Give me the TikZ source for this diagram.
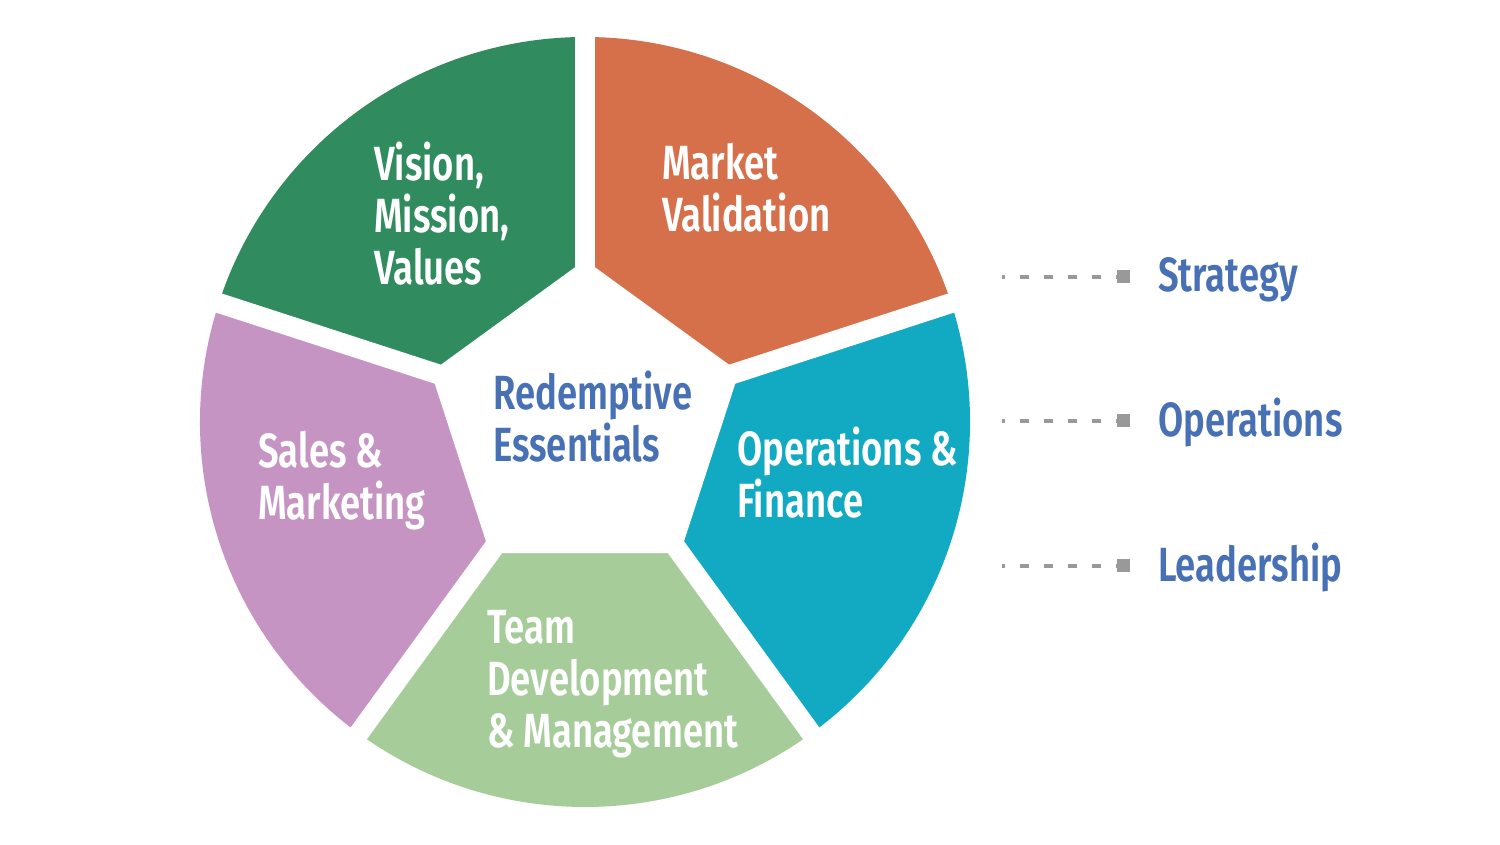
\documentclass[tikz,border=0pt]{standalone}
\usepackage{fontspec}
\setmainfont{Fira Sans}[UprightFont=* SemiBold, FakeStretch=0.76]
\definecolor{cVision}{HTML}{308C5E}
\definecolor{cMarket}{HTML}{D5704A}
\definecolor{cOps}{HTML}{12AAC3}
\definecolor{cTeam}{HTML}{A6CD99}
\definecolor{cSales}{HTML}{C694C2}
\definecolor{cBlue}{HTML}{4870B5}
\definecolor{cGray}{HTML}{999999}
\begin{document}
\begin{tikzpicture}[x=1pt,y=1pt,
  seglabel/.style={anchor=base west, inner sep=0pt, align=left, text=white,
    font=\fontsize{48}{52}\selectfont},
  centrelabel/.style={seglabel, text=cBlue},
  legendlabel/.style={anchor=base west, inner sep=0pt, text=cBlue,
    font=\fontsize{48}{52}\selectfont},
  legendmark/.style={fill=cGray, minimum size=13pt, inner sep=0pt},
  legendline/.style={draw=cGray, line width=4pt, dash pattern=on 9pt off 15pt, dash phase=6pt},
  gap/.style={draw=white, line width=20pt}]
\useasboundingbox (0,0) rectangle (1500,845);
\fill[white] (0,0) rectangle (1500,845);
\begin{scope}[shift={(585,423)}]
  \def\R{385}
  \fill[cVision] (0,0) -- (90:\R) arc[start angle=90, end angle=162, radius=\R] -- cycle;
  \fill[cSales] (0,0) -- (162:\R) arc[start angle=162, end angle=234, radius=\R] -- cycle;
  \fill[cTeam] (0,0) -- (234:\R) arc[start angle=234, end angle=306, radius=\R] -- cycle;
  \fill[cOps] (0,0) -- (306:\R) arc[start angle=306, end angle=378, radius=\R] -- cycle;
  \fill[cMarket] (0,0) -- (18:\R) arc[start angle=18, end angle=90, radius=\R] -- cycle;
  \fill[white] (90:162) -- (162:162) -- (234:162) -- (306:162) -- (18:162) -- cycle;
  \foreach \a in {90,162,234,306,18}
    \draw[gap] (0,0) -- (\a:\R+10);
\end{scope}
\node[seglabel] (vision) at (374,560) {Vision,\\Mission,\\Values};
\node[seglabel] (market) at (662,613) {Market\\Validation};
\node[centrelabel] (centre) at (493,383) {Redemptive\\Essentials};
\node[seglabel] (sales) at (258,325) {Sales \&\\Marketing};
\node[seglabel] (ops) at (737,327) {Operations \&\\Finance};
\node[seglabel] (team) at (487,97) {Team\\Development\\\& Management};
% legend
\node[legendmark] (m1) at (1123,568) {};
\node[legendmark] (m2) at (1123,424) {};
\node[legendmark] (m3) at (1123,279) {};
\coordinate (s1) at (1002,568);
\coordinate (s2) at (1002,424);
\coordinate (s3) at (1002,279);
\draw[legendline] (s1) -- (m1.west);
\draw[legendline] (s2) -- (m2.west);
\draw[legendline] (s3) -- (m3.west);
\node[legendlabel] (strategy) at (1158,553) {Strategy};
\node[legendlabel] (operations) at (1158,408) {Operations};
\node[legendlabel] (leadership) at (1158,263) {Leadership};
\end{tikzpicture}
\end{document}
